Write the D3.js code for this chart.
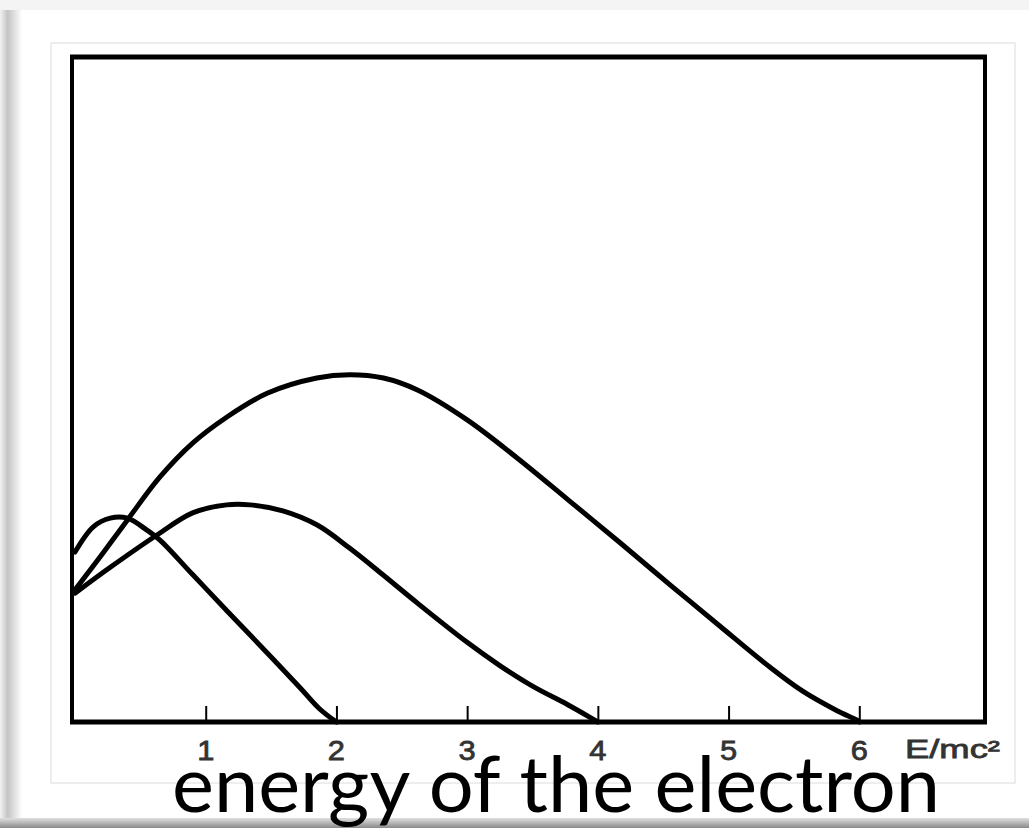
<!DOCTYPE html>
<html>
<head>
<meta charset="utf-8">
<script src="https://cdn.jsdelivr.net/npm/d3@7"></script>
<style>
  body { margin: 0; background: #fff; }
  svg { display: block; }
</style>
</head>
<body>
<script>
// E/mc^2 values and relative intensity
const curveA_E = [0, 0.14, 0.27, 0.40, 0.55, 0.65, 0.90, 1.16, 1.34, 1.72, 1.87, 2.0];
const curveA_I = [2.56, 2.94, 3.07, 3.07, 2.89, 2.74, 2.22, 1.68, 1.31, 0.52, 0.20, 0];

const curveB_E = [0, 0.27, 0.63, 0.90, 1.16, 1.34, 1.59, 1.85, 2.10, 2.36, 2.62, 3.0, 3.25, 3.5, 3.77, 3.94, 4.0];
const curveB_I = [1.94, 2.33, 2.82, 3.15, 3.27, 3.27, 3.18, 2.97, 2.62, 2.21, 1.79, 1.20, 0.85, 0.54, 0.26, 0.07, 0];

const curveC_E = [0, 0.19, 0.40, 0.65, 0.90, 1.16, 1.47, 1.85, 2.10, 2.36, 2.62, 3.0, 3.38, 3.77, 4.17, 4.55, 4.93, 5.32, 5.57, 5.83, 5.98, 6.0];
const curveC_I = [1.99, 2.48, 3.04, 3.69, 4.20, 4.59, 4.95, 5.18, 5.23, 5.18, 5.0, 4.55, 3.98, 3.35, 2.70, 2.07, 1.45, 0.82, 0.46, 0.17, 0.03, 0];

const tickValues = [1, 2, 3, 4, 5, 6];
const unitLabel = "E/mc²";
const caption = "energy of the electron";

const width = 1029, height = 828;

const svg = d3.select("body").append("svg")
  .attr("width", width)
  .attr("height", height);

const defs = svg.append("defs");
const leftShade = defs.append("linearGradient").attr("id", "leftShade");
leftShade.append("stop").attr("offset", "0%").attr("stop-color", "#f2f2f2");
leftShade.append("stop").attr("offset", "35%").attr("stop-color", "#c4c4c4");
leftShade.append("stop").attr("offset", "100%").attr("stop-color", "#fff");
const bottomShade = defs.append("linearGradient").attr("id", "bottomShade")
  .attr("x1", 0).attr("y1", 0).attr("x2", 0).attr("y2", 1);
bottomShade.append("stop").attr("offset", "0%").attr("stop-color", "#e0e0e0");
bottomShade.append("stop").attr("offset", "100%").attr("stop-color", "#8a8a8a");

// picture frame / shadow
svg.append("rect").attr("x", 0).attr("y", 0).attr("width", width).attr("height", 10).attr("fill", "#f4f4f4");
svg.append("rect").attr("x", 0).attr("y", 10).attr("width", 22).attr("height", height - 10).attr("fill", "url(#leftShade)");
svg.append("rect").attr("x", 0).attr("y", 818).attr("width", width).attr("height", 10).attr("fill", "url(#bottomShade)");
svg.append("rect").attr("x", 51).attr("y", 43).attr("width", 964).attr("height", 740)
  .attr("fill", "#fff").attr("stroke", "#dcdcdc").attr("stroke-width", 1);

const x = d3.scaleLinear().domain([0, 7]).range([75, 990]);
const y = d3.scaleLinear().domain([0, 10]).range([722, 58]);

// plot box
const box = svg.append("g").attr("stroke", "#000").attr("fill", "none");
box.append("line").attr("x1", 72).attr("x2", 72).attr("y1", 56).attr("y2", 724).attr("stroke-width", 4);
box.append("line").attr("x1", 70).attr("x2", 987).attr("y1", 57).attr("y2", 57).attr("stroke-width", 5);
box.append("line").attr("x1", 985).attr("x2", 985).attr("y1", 56).attr("y2", 724).attr("stroke-width", 4);

// x axis: ticks point up into the plot
const axis = svg.append("g")
  .attr("transform", `translate(0,${y(0)})`)
  .call(d3.axisBottom(x).tickValues(tickValues).tickSize(-16).tickFormat(""));
axis.select(".domain").remove();
axis.selectAll(".tick line").attr("stroke", "#000").attr("stroke-width", 2);
svg.append("line").attr("x1", 70).attr("x2", 987).attr("y1", y(0)).attr("y2", y(0))
  .attr("stroke", "#000").attr("stroke-width", 5);

svg.append("g").selectAll("text")
  .data(tickValues)
  .join("text")
  .attr("transform", d => `translate(${x(d)},760) scale(1.1,1)`)
  .attr("text-anchor", "middle")
  .attr("font-family", "Liberation Sans, Arial, sans-serif")
  .attr("font-size", 28)
  .attr("stroke", "#333")
  .attr("stroke-width", 0.8)
  .attr("fill", "#333")
  .text(d => d);

svg.append("text")
  .attr("x", 905).attr("y", 758)
  .attr("font-family", "Liberation Sans, Arial, sans-serif")
  .attr("font-size", 26)
  .attr("stroke", "#333")
  .attr("stroke-width", 0.8)
  .attr("fill", "#333")
  .attr("textLength", 95)
  .attr("lengthAdjust", "spacingAndGlyphs")
  .text(unitLabel);

// curves
const line = d3.line()
  .x(d => x(d[0]))
  .y(d => y(d[1]))
  .curve(d3.curveCatmullRom.alpha(0.5));

const curves = [
  d3.zip(curveA_E, curveA_I),
  d3.zip(curveB_E, curveB_I),
  d3.zip(curveC_E, curveC_I)
];

svg.append("g").selectAll("path")
  .data(curves)
  .join("path")
  .attr("d", line)
  .attr("fill", "none")
  .attr("stroke", "#000")
  .attr("stroke-width", 5)
  .attr("stroke-linejoin", "round")
  .attr("stroke-linecap", "round");

svg.append("text")
  .attr("x", 172).attr("y", 812)
  .attr("font-family", "Lato, 'Noto Sans', sans-serif")
  .attr("font-size", 78)
  .attr("fill", "#000")
  .attr("textLength", 768)
  .attr("lengthAdjust", "spacingAndGlyphs")
  .text(caption);
</script>
</body>
</html>
